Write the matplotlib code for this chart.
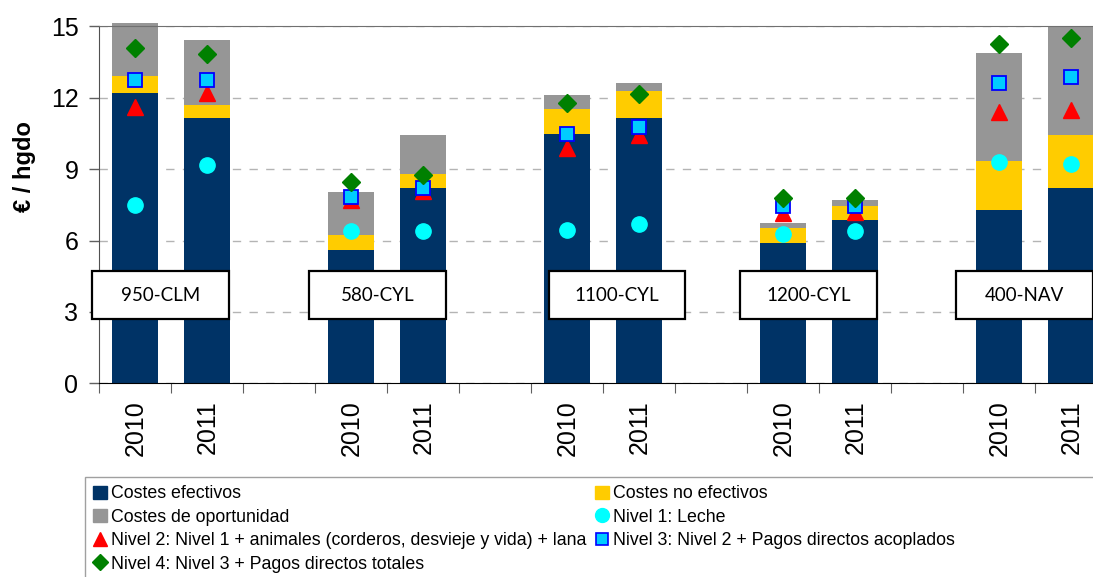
import numpy as np
import matplotlib
matplotlib.use('Agg')
import matplotlib.pyplot as plt
from matplotlib.patches import Rectangle
from matplotlib.lines import Line2D
from matplotlib.patches import Patch

plt.rcParams['font.family'] = ['Liberation Sans', 'DejaVu Sans']

# datos (euros / hgdo)
grupos = ['950-CLM', '580-CYL', '1100-CYL', '1200-CYL', '400-NAV']
anios = ['2010', '2011']
costes_efectivos = [12.20, 11.15, 5.60, 8.21, 10.47, 11.15, 5.89, 6.86, 7.28, 8.21]
costes_no_efectivos = [0.71, 0.54, 0.63, 0.58, 1.05, 1.13, 0.64, 0.59, 2.06, 2.22]
costes_oportunidad = [2.23, 2.73, 1.81, 1.64, 0.59, 0.34, 0.21, 0.25, 4.54, 4.58]
nivel1 = [7.50, 9.17, 6.40, 6.40, 6.45, 6.71, 6.26, 6.40, 9.30, 9.23]
nivel2 = [11.62, 12.18, 7.70, 8.10, 9.87, 10.43, 7.14, 7.21, 11.41, 11.48]
nivel3 = [12.76, 12.76, 7.81, 8.19, 10.46, 10.77, 7.45, 7.45, 12.63, 12.87]
nivel4 = [14.07, 13.84, 8.47, 8.77, 11.78, 12.16, 7.79, 7.79, 14.27, 14.51]

# posiciones: dos barras por grupo y un hueco entre grupos
pos = []
for g in range(len(grupos)):
    pos += [3 * g, 3 * g + 1]
pos = np.array(pos)
cajas_x = [0.35, 3.36, 6.69, 9.35, 12.35]

c_ef, c_noef, c_op = '#003366', '#FFCC00', '#969696'

fig = plt.figure(figsize=(10.93, 5.77), dpi=100)
ax = fig.add_axes([99.3 / 1093, 193.7 / 577, 1008 / 1093, 357 / 577])

w = 0.64
ef = np.array(costes_efectivos)
noef = np.array(costes_no_efectivos)
op = np.array(costes_oportunidad)
for vals, base, col in [(ef, 0, c_ef), (noef, ef, c_noef), (op, ef + noef, c_op)]:
    bars = ax.bar(pos, vals, w, bottom=base, color=col, zorder=2)
    for b in bars:
        b.set_clip_on(False)

ax.plot(pos, nivel1, 'o', ms=11, color='#00FFFF', mec='#00FFFF', zorder=3)
ax.plot(pos, nivel2, '^', ms=11, color='#FF0000', mec='#FF0000', zorder=3)
ax.plot(pos, nivel3, 's', ms=10, color='#00CCFF', mec='#0000FF', mew=1.3, zorder=4)
ax.plot(pos, nivel4, 'D', ms=9, color='#008000', mec='#008000', zorder=5)

# cajas con el nombre de cada explotacion
for cx, nombre in zip(cajas_x, grupos):
    ax.add_patch(Rectangle((cx - 0.95, 2.70), 1.90, 2.02, facecolor='white',
                           edgecolor='black', lw=1.6, zorder=6, clip_on=False))
    ax.text(cx, 3.71, nombre, ha='center', va='center', fontsize=13.5,
            family=['Lato', 'DejaVu Sans'], zorder=7)

ax.set_ylim(0, 15)
ax.set_xlim(-0.5, 13.5)
ax.set_yticks([0, 3, 6, 9, 12, 15])
ax.tick_params(axis='y', labelsize=18, length=7, width=1, color='#606060', pad=8)
ax.set_xticks(np.arange(-0.5, 14, 1.0))
ax.set_xticklabels([])
ax.tick_params(axis='x', which='major', length=7, color='#606060')
ax.set_xticks(pos, minor=True)
ax.set_xticklabels([anios[i % 2] for i in range(len(pos))], minor=True,
                   rotation=90, fontsize=18)
ax.tick_params(axis='x', which='minor', length=0, pad=12.5)

ax.yaxis.grid(True, color='#b4b4b4', linestyle=(0, (6, 6)), lw=1, zorder=0)
ax.set_axisbelow(True)
ax.spines['right'].set_visible(False)
ax.spines['top'].set_color('#707070')
ax.spines['left'].set_color('#505050')
ax.spines['bottom'].set_color('black')

ax.set_ylabel('€ / hgdo', fontsize=17, fontweight='bold')
ax.yaxis.set_label_coords(-0.063, 0.608)

# leyenda
fig.patches.append(Rectangle((85 / 1093, -0.05), 1.1, (577 - 477) / 577 + 0.05,
                             transform=fig.transFigure, facecolor='white',
                             edgecolor='#a0a0a0', lw=1))
handles = [
    Patch(color=c_ef, label='Costes efectivos'),
    Patch(color=c_op, label='Costes de oportunidad'),
    Line2D([], [], ls='', marker='^', ms=10, color='#FF0000',
           label='Nivel 2: Nivel 1 + animales (corderos, desvieje y vida) + lana'),
    Line2D([], [], ls='', marker='D', ms=8, color='#008000',
           label='Nivel 4: Nivel 3 + Pagos directos totales'),
    Patch(color=c_noef, label='Costes no efectivos'),
    Line2D([], [], ls='', marker='o', ms=10, color='#00FFFF', label='Nivel 1: Leche'),
    Line2D([], [], ls='', marker='s', ms=9, color='#00CCFF', mec='#0000FF', mew=1.2,
           label='Nivel 3: Nivel 2 + Pagos directos acoplados'),
]
fig.legend(handles=handles, ncol=2, loc='upper left',
           bbox_to_anchor=(81 / 1093, 1 - 473 / 577), frameon=False,
           fontsize=12.8, handlelength=0.75, handleheight=0.75, handletextpad=0.25,
           columnspacing=0.5, labelspacing=0.36, borderpad=0.2)

fig.savefig('out.png', dpi=100)
